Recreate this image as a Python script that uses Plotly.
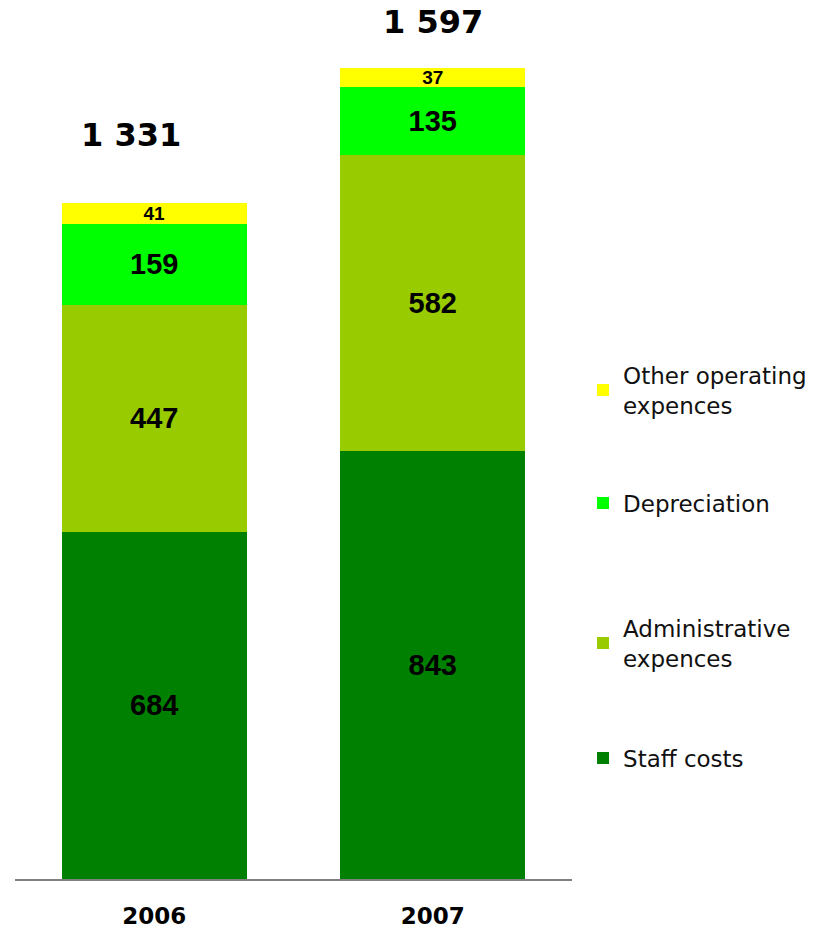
import plotly.graph_objects as go

years = ["2006", "2007"]
staff_costs = [684, 843]
administrative = [447, 582]
depreciation = [159, 135]
other_operating = [41, 37]
totals = [1331, 1597]

series_names = ["Staff costs", "Administrative<br>expences", "Depreciation", "Other operating<br>expences"]
series_values = [staff_costs, administrative, depreciation, other_operating]
colors = ["#008000", "#99CC00", "#00FF00", "#FFFF00"]
label_sizes = [29, 29, 29, 19]
legend_ids = ["legend4", "legend3", "legend2", "legend"]
legend_y = [0.1392, 0.2716, 0.4327, 0.5627]

fig = go.Figure()
for name, vals, col, fs, lid in zip(series_names, series_values, colors, label_sizes, legend_ids):
    fig.add_trace(go.Bar(
        x=years, y=vals, name=name, marker=dict(color=col, line=dict(width=0)),
        text=[str(v) for v in vals], textposition="inside", insidetextanchor="middle",
        constraintext="none", textangle=0,
        textfont=dict(family="Liberation Sans", size=fs, color="black", weight="bold"),
        legend=lid, showlegend=True,
    ))

def fmt(v):
    return f"{v:,}".replace(",", " ")

shifts = [(-23, 47), (0, 25)]
for i, (tot, (xs, ys)) in enumerate(zip(totals, shifts)):
    fig.add_annotation(x=i, y=tot, text=fmt(tot), showarrow=False, yanchor="bottom",
                       xshift=xs, yshift=ys,
                       font=dict(family="DejaVu Sans", size=32, color="black", weight="bold"))

leg_common = dict(x=1.0198, xanchor="left", yanchor="middle", bgcolor="rgba(0,0,0,0)",
                  font=dict(family="DejaVu Sans", size=23, color="#111111"))
layout_legends = {}
for lid, ly in zip(legend_ids, legend_y):
    layout_legends[lid] = dict(y=ly, visible=True, **leg_common)

fig.update_layout(
    barmode="stack", bargap=0.336,
    width=814, height=927,
    margin=dict(l=7, r=250, t=2, b=56, autoexpand=False),
    plot_bgcolor="white", paper_bgcolor="white",
    showlegend=True,
    xaxis=dict(type="category", categoryorder="array", categoryarray=years,
               showline=True, linecolor="#808080", linewidth=1.5, ticks="",
               tickfont=dict(family="DejaVu Sans", size=23, color="black", weight="bold"),
               ticklabelstandoff=16, showgrid=False, automargin=False),
    yaxis=dict(visible=False, range=[0, 1711], showgrid=False, zeroline=False),
    **layout_legends,
)
fig.write_html("out.html")
